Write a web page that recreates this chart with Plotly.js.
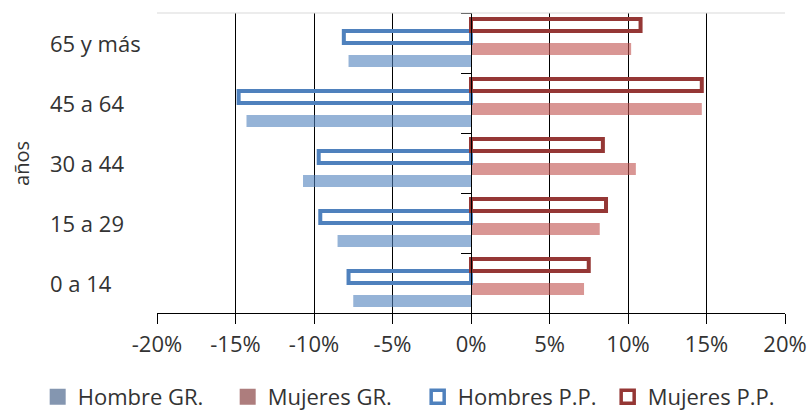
<!DOCTYPE html>
<html>
<head>
<meta charset="utf-8">
<script src="https://cdn.plot.ly/plotly-3.0.1.min.js"></script>
<style>html,body{margin:0;padding:0;background:#fff;}#chart{width:809px;height:412px;}</style>
</head>
<body>
<div id="chart"></div>
<script>
// Data (percent of population per age group)
const categories = ['0 a 14', '15 a 29', '30 a 44', '45 a 64', '65 y más'];
const hombreGR   = [-7.5, -8.5, -10.7, -14.3, -7.8];
const mujeresGR  = [7.2, 8.2, 10.5, 14.7, 10.2];
const hombresPP  = [-7.8, -9.6, -9.7, -14.8, -8.1];
const mujeresPP  = [7.5, 8.6, 8.4, 14.7, 10.8];
const seriesNames = ['Hombre GR.', 'Mujeres GR.', 'Hombres P.P.', 'Mujeres P.P.'];
const tickValues = [-20, -15, -10, -5, 0, 5, 10, 15, 20];
const tickLabels = ['-20%', '-15%', '-10%', '-5%', '0%', '5%', '10%', '15%', '20%'];
const yTitle = 'años';

const FONT = 'Open Sans, sans-serif';
const TXT = '#333333';

const barStyles = [
  {color: 'rgba(79,129,189,0.6)', line: {width: 0}},
  {color: 'rgba(192,80,77,0.6)', line: {width: 0}},
  {color: 'rgba(255,255,255,0)', line: {width: 4, color: '#4F81BD'}},
  {color: 'rgba(255,255,255,0)', line: {width: 4, color: '#953735'}}
];
const legendStyles = [
  {symbol: 'square', size: 16, color: '#8496B0', line: {width: 0}},
  {symbol: 'square', size: 16, color: '#AD7D7D', line: {width: 0}},
  {symbol: 'square', size: 13, color: '#FFFFFF', line: {width: 3.5, color: '#4F81BD'}},
  {symbol: 'square', size: 13, color: '#FFFFFF', line: {width: 3.5, color: '#953735'}}
];
const seriesValues = [hombreGR, mujeresGR, hombresPP, mujeresPP];

const traces = seriesValues.map((vals, i) => ({
  type: 'bar', orientation: 'h', name: seriesNames[i], y: categories, x: vals,
  marker: barStyles[i], showlegend: false
}));
// legend entries (key symbols only, no data)
seriesNames.forEach((n, i) => traces.push({
  type: 'scatter', mode: 'markers', name: n, x: [null], y: [null],
  marker: legendStyles[i], showlegend: true, hoverinfo: 'skip'
}));

const annotations = categories.map(c => ({
  text: c, xref: 'paper', yref: 'y', x: -0.1736, y: c, xanchor: 'left', yanchor: 'middle',
  showarrow: false, font: {family: FONT, size: 22, color: TXT}
}));
annotations.push({
  text: yTitle, xref: 'paper', yref: 'paper', x: -0.2166, y: 0.5, xanchor: 'center', yanchor: 'middle',
  textangle: -90, showarrow: false, font: {family: FONT, size: 20, color: TXT}
});

const layout = {
  width: 809, height: 412,
  margin: {l: 157, r: 24, t: 13, b: 99, autoexpand: false},
  paper_bgcolor: '#fff', plot_bgcolor: '#fff',
  barmode: 'group', bargap: 0.2, bargroupgap: 0,
  font: {family: FONT, size: 22, color: TXT},
  xaxis: {
    range: [-20, 20], tickmode: 'array', tickvals: tickValues, ticktext: tickLabels,
    showgrid: true, gridcolor: '#000', gridwidth: 1, zeroline: false,
    showline: true, linecolor: '#000', linewidth: 1,
    ticks: 'outside', ticklen: 10, tickcolor: '#000', tickwidth: 1, ticklabelstandoff: 2,
    tickfont: {family: FONT, size: 22, color: TXT}, fixedrange: true
  },
  yaxis: {
    type: 'category', categoryorder: 'array', categoryarray: categories,
    anchor: 'free', position: 0.5, showline: true, linecolor: '#000', linewidth: 1,
    ticks: 'outside', tickson: 'boundaries', ticklen: 10, tickcolor: '#000',
    showticklabels: false, showgrid: false, zeroline: false, fixedrange: true
  },
  shapes: [{type: 'line', xref: 'paper', yref: 'paper', x0: 0, x1: 1, y0: 1, y1: 1,
            line: {color: '#D9D9D9', width: 1}}],
  annotations: annotations,
  showlegend: true,
  legend: {
    orientation: 'h', xref: 'paper', yref: 'paper', x: -0.19, y: -0.28,
    xanchor: 'left', yanchor: 'middle', font: {family: FONT, size: 22, color: TXT},
    bgcolor: 'rgba(0,0,0,0)', borderwidth: 0, traceorder: 'normal',
    entrywidth: 145, itemwidth: 30
  }
};

Plotly.newPlot('chart', traces, layout, {displayModeBar: false, staticPlot: true});
</script>
</body>
</html>
